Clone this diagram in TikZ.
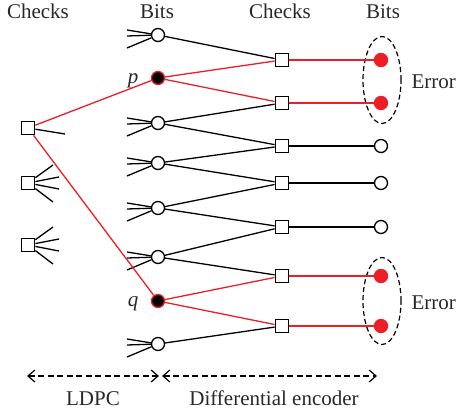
\documentclass[tikz,border=0pt]{standalone}
\usepackage{fontspec}
\setmainfont{Liberation Serif}
\usetikzlibrary{shapes.geometric,arrows.meta}
\definecolor{errred}{RGB}{236,30,38}
\definecolor{txt}{RGB}{40,40,40}
\begin{document}
\begin{tikzpicture}[x=1pt,y=-1pt,line width=1.3pt,
  bitnode/.style={circle,draw=black,fill=white,minimum size=13pt,inner sep=0pt},
  keybit/.style={circle,draw=errred,fill=black,minimum size=13pt,inner sep=0pt},
  errbit/.style={circle,draw=errred,fill=errred,minimum size=13pt,inner sep=0pt},
  chknode/.style={rectangle,draw=black,fill=white,minimum size=13.5pt,inner sep=0pt},
  lbl/.style={text=txt,font=\fontsize{21}{25}\selectfont,inner sep=0pt,anchor=base},
  redline/.style={draw=errred},
  ringbox/.style={ellipse,draw=black,line width=1.2pt,dash pattern=on 5pt off 3pt,minimum width=38pt,minimum height=87pt,inner sep=0pt},
  spanarrow/.style={dash pattern=on 6pt off 3.5pt,line width=1.2pt,{Straight Barb[length=7pt,width=12pt]}-{Straight Barb[length=7pt,width=12pt]}}
]
\useasboundingbox (0,0) rectangle (458,414);
% headers
\node[lbl] (h1) at (38,19) {Checks};
\node[lbl] (h2) at (157,19) {Bits};
\node[lbl] (h3) at (280,19) {Checks};
\node[lbl] (h4) at (383,19) {Bits};
% ellipses (behind)
\node[ringbox] (e1) at (382,80) {};
\node[ringbox] (e2) at (382,301) {};
% left checks
\node[chknode] (l1) at (28,128) {};
\node[chknode] (l2) at (28,183) {};
\node[chknode] (l3) at (28,245) {};
% bits
\node[bitnode] (b1) at (158,35) {};
\node[keybit]  (b2) at (158,78) {};
\node[bitnode] (b3) at (158,123) {};
\node[bitnode] (b4) at (158,163) {};
\node[bitnode] (b5) at (158,208) {};
\node[bitnode] (b6) at (158,257) {};
\node[keybit]  (b7) at (158,301) {};
\node[bitnode] (b8) at (158,344) {};
% middle checks
\foreach \i/\y in {1/60,2/103,3/146,4/183,5/227,6/276,7/326}
  \node[chknode] (c\i) at (282,\y) {};
% right bits
\node[errbit]  (r1) at (381,60) {};
\node[errbit]  (r2) at (381,103) {};
\node[bitnode] (r3) at (381,146) {};
\node[bitnode] (r4) at (381,183) {};
\node[bitnode] (r5) at (381,227) {};
\node[errbit]  (r6) at (381,276) {};
\node[errbit]  (r7) at (381,326) {};
% labels
\node[lbl,font=\itshape\fontsize{21}{25}\selectfont] (p) at (133,84) {p};
\node[lbl,font=\itshape\fontsize{21}{25}\selectfont] (q) at (133,306) {q};
\node[lbl,anchor=base west] (err1) at (411,89) {Error};
\node[lbl,anchor=base west] (err2) at (411,309) {Error};
\node[lbl] (ldpc) at (93,405) {LDPC};
\node[lbl] (diff) at (274,405) {Differential encoder};
% stubs on left checks
\draw (l1) -- +(37,6);
\foreach \dx/\dy in {25/-18,31/-6,31/6,25/19} {
  \draw (l2) -- +(\dx,\dy);
  \draw (l3) -- +(\dx,\dy);
}
% stubs on bits
\foreach \b in {b1,b3,b4,b5,b6,b8}
  \foreach \dy in {-5,1,13}
    \draw (\b) -- +(-31,\dy);
% red LDPC connections
\draw[redline] (l1) -- (b2);
\draw[redline] (l1) -- (b7);
% accumulator connections
\draw (c1) -- (b1);
\draw[redline] (c1) -- (b2);
\draw[redline] (c2) -- (b2);
\draw (c2) -- (b3);
\draw (c3) -- (b3);
\draw (c3) -- (b4);
\draw (c4) -- (b4);
\draw (c4) -- (b5);
\draw (c5) -- (b5);
\draw (c5) -- (b6);
\draw (c6) -- (b6);
\draw[redline] (c6) -- (b7);
\draw[redline] (c7) -- (b7);
\draw (c7) -- (b8);
\draw[redline] (c1) -- (r1);
\draw[redline] (c2) -- (r2);
\draw (c3) -- (r3);
\draw (c4) -- (r4);
\draw (c5) -- (r5);
\draw[redline] (c6) -- (r6);
\draw[redline] (c7) -- (r7);
% bottom arrows
\coordinate (a1) at (27,376);
\coordinate (a2) at (159,376);
\coordinate (a3) at (162,376);
\coordinate (a4) at (377,376);
\draw[spanarrow] (a1) -- (a2);
\draw[spanarrow] (a3) -- (a4);
\end{tikzpicture}
\end{document}
